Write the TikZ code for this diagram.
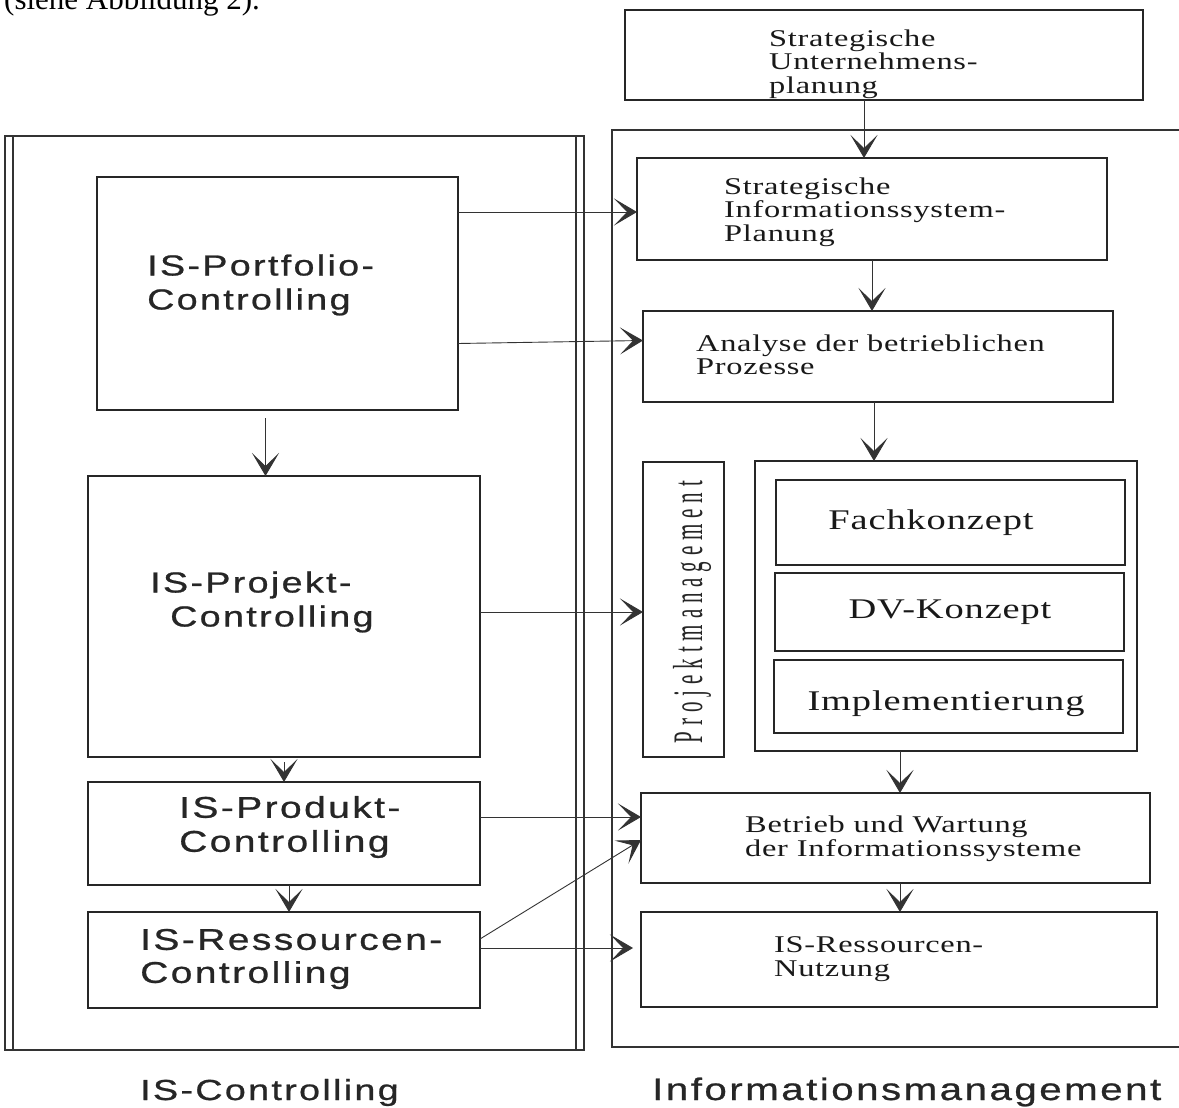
\documentclass[tikz,border=0pt]{standalone}
\usepackage{fontspec}
\usetikzlibrary{arrows.meta,calc}
\newfontfamily\serifx[FakeStretch=1.35,LetterSpace=3]{Liberation Serif}
\newfontfamily\sansx[FakeStretch=1.3,LetterSpace=8,FakeBold=0.8]{Liberation Sans}
\newfontfamily\condx[FakeStretch=0.5,LetterSpace=14]{Liberation Serif}
\newfontfamily\bodyx{Liberation Serif}
\tikzset{
  boxnode/.style={draw=black!85, line width=1.3pt, inner sep=0pt, outer sep=0pt, rectangle},
  framenode/.style={draw=black!80, line width=1.2pt, inner sep=0pt, outer sep=0pt, rectangle},
  sertext/.style={font=\fontsize{24}{23.5}\selectfont\serifx, align=left, inner sep=0pt, text=black!90},
  bigser/.style={font=\fontsize{28.5}{32}\selectfont\serifx, inner sep=0pt, text=black!90},
  santext/.style={font=\fontsize{29}{34}\selectfont\sansx, align=left, inner sep=0pt, text=black!85},
  arr/.style={draw=black!80, line width=0.9pt, -{Stealth[length=23pt,width=27pt,inset=13pt]}},
}
\begin{document}
\begin{tikzpicture}[x=1pt,y=-1pt]
\useasboundingbox (0,0) rectangle (1179,1108);
\clip (0,0) rectangle (1179,1108);
\fill[white] (0,0) rectangle (1179,1108);

% running text above the figure
\node[anchor=base west, inner sep=0pt, font=\fontsize{31}{36}\selectfont\bodyx] (cap) at (4,10) {(siehe Abbildung 2).};

% outer frames
\node[framenode, minimum width=579, minimum height=914] (isc) at (294.5,593) {};
\draw[black!80, line width=1.2pt] ($(isc.north west)+(8,0)$) -- ($(isc.south west)+(8,0)$);
\draw[black!80, line width=1.2pt] ($(isc.north east)+(-8,0)$) -- ($(isc.south east)+(-8,0)$);
\node[framenode, minimum width=570, minimum height=917] (im) at (897,588.5) {};

% IS-Controlling column
\node[boxnode, minimum width=361, minimum height=233] (port) at (277.5,293.5) {};
\node[boxnode, minimum width=392, minimum height=281] (proj) at (284,616.5) {};
\node[boxnode, minimum width=392, minimum height=103] (prod) at (284,833.5) {};
\node[boxnode, minimum width=392, minimum height=96] (ress) at (284,960) {};

\node[santext, anchor=west] (portT) at (147,285) {IS-Portfolio-\\Controlling};
\node[santext, anchor=west] (projT) at (150,602) {IS-Projekt-\\\hspace*{20pt}Controlling};
\node[santext, anchor=west, font=\fontsize{30}{34}\selectfont\sansx] (prodT) at (179,827) {IS-Produkt-\\Controlling};
\node[santext, anchor=west, font=\fontsize{30}{33}\selectfont\sansx] (ressT) at (140,959) {IS-Ressourcen-\\Controlling};

% Informationsmanagement column
\node[boxnode, minimum width=518, minimum height=90] (tup) at (884,55) {};
\node[boxnode, minimum width=470, minimum height=102] (sisp) at (872,209) {};
\node[boxnode, minimum width=470, minimum height=91] (ana) at (878,356.5) {};
\node[boxnode, minimum width=81, minimum height=295] (pm) at (683.5,609.5) {};
\node[boxnode, minimum width=382, minimum height=290] (conc) at (946,606) {};
\node[boxnode, minimum width=349, minimum height=85] (fk) at (950.5,522.5) {};
\node[boxnode, minimum width=349, minimum height=78] (dv) at (949.5,612) {};
\node[boxnode, minimum width=349, minimum height=73] (impl) at (948.5,696.5) {};
\node[boxnode, minimum width=509, minimum height=90] (bw) at (895.5,838) {};
\node[boxnode, minimum width=516, minimum height=95] (nutz) at (899,959.5) {};

\node[sertext, anchor=west] (tupT) at (769,64) {Strategische\\Unternehmens-\\planung};
\node[sertext, anchor=west] (sispT) at (724,212) {Strategische\\Informationssystem-\\Planung};
\node[sertext, anchor=west] (anaT) at (696,355) {Analyse der betrieblichen\\Prozesse};
\node[bigser] (fkT) at (931,523) {Fachkonzept};
\node[bigser] (dvT) at (950,612) {DV-Konzept};
\node[bigser] (implT) at (946,704) {Implementierung};
\node[sertext, anchor=west] (bwT) at (745,839) {Betrieb und Wartung\\der Informationssysteme};
\node[sertext, anchor=west] (nutzT) at (774,959) {IS-Ressourcen-\\Nutzung};
\node[rotate=90, inner sep=0pt, font=\fontsize{42}{42}\selectfont\condx, text=black!85] (pmT) at (692,612) {Projektmanagement};

% column captions
\node[anchor=base west, inner sep=0pt, font=\fontsize{29}{34}\selectfont\sansx, text=black!85] (iscT) at (140,1100) {IS-Controlling};
\node[anchor=base west, inner sep=0pt, font=\fontsize{31}{34}\selectfont\sansx, text=black!85] (imT) at (652,1100) {Informationsmanagement};

% flow within Informationsmanagement
\draw[arr] ($(tup.south)+(-20,0)$) -- ($(sisp.north)+(-8,0)$);
\draw[arr] (sisp.south) -- ($(ana.north)+(-6,0)$);
\draw[arr] ($(ana.south)+(-4,0)$) -- ($(conc.north)+(-72,0)$);
\draw[arr] ($(conc.south)+(-46,0)$) -- ($(bw.north)+(4.5,0)$);
\draw[arr] ($(bw.south)+(4.5,0)$) -- ($(nutz.north)+(1,0)$);

% flow within IS-Controlling
\draw[arr] ($(port.south)+(-12,8)$) -- ($(proj.north)+(-18.5,0)$);
\draw[arr] ($(proj.south)+(0,5)$) -- (prod.north);
\draw[arr] ($(prod.south)+(5,0)$) -- ($(ress.north)+(5,0)$);

% links between the columns
\draw[arr] ($(port.east)+(0,-81.5)$) -- ($(sisp.west)+(0,3)$);
\draw[arr] ($(port.east)+(0,50)$) -- ($(ana.west)+(0,-16)$);
\draw[arr] ($(proj.east)+(0,-4.5)$) -- ($(pm.west)+(0,2.5)$);
\draw[arr] ($(prod.east)+(0,-16.5)$) -- ($(bw.west)+(0,-21)$);
\draw[arr] ($(ress.east)+(0,-21)$) -- ($(bw.west)+(0,2)$);
\draw[arr] ($(ress.east)+(0,-12)$) -- ($(nutz.west)+(-8,-11.5)$);
\end{tikzpicture}
\end{document}
